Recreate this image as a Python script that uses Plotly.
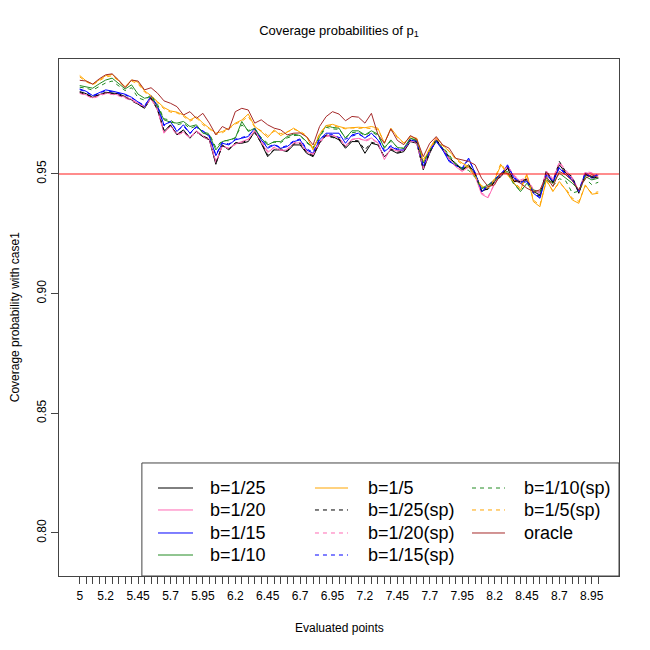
import plotly.graph_objects as go

# evaluated points 5, 5.05, ..., 9
eval_points = [round(5 + 0.05 * k, 2) for k in range(81)]
tick_labels = ["5", "5.2", "5.45", "5.7", "5.95", "6.2", "6.45", "6.7", "6.95",
               "7.2", "7.45", "7.7", "7.95", "8.2", "8.45", "8.7", "8.95"]

b25 = [0.9844, 0.9835, 0.9820, 0.9832, 0.9841, 0.9838, 0.9835, 0.9823, 0.9809, 0.9791,
       0.9774, 0.9819, 0.9767, 0.9677, 0.9705, 0.9663, 0.9684, 0.9649, 0.9677, 0.9655,
       0.9642, 0.9540, 0.9621, 0.9600, 0.9628, 0.9628, 0.9635, 0.9677, 0.9628, 0.9572,
       0.9600, 0.9600, 0.9593, 0.9621, 0.9621, 0.9586, 0.9572, 0.9628, 0.9663, 0.9656,
       0.9642, 0.9607, 0.9635, 0.9635, 0.9586, 0.9628, 0.9621, 0.9572, 0.9600, 0.9586,
       0.9593, 0.9635, 0.9628, 0.9517, 0.9586, 0.9642, 0.9600, 0.9565, 0.9545, 0.9517,
       0.9538, 0.9503, 0.9426, 0.9440, 0.9468, 0.9489, 0.9524, 0.9468, 0.9468, 0.9475,
       0.9426, 0.9412, 0.9510, 0.9461, 0.9538, 0.9503, 0.9482, 0.9419, 0.9496, 0.9489,
       0.9482]
b20 = [0.9838, 0.9830, 0.9818, 0.9830, 0.9838, 0.9835, 0.9830, 0.9820, 0.9812, 0.9795,
       0.9779, 0.9815, 0.9770, 0.9670, 0.9700, 0.9668, 0.9675, 0.9652, 0.9680, 0.9660,
       0.9645, 0.9548, 0.9618, 0.9605, 0.9625, 0.9635, 0.9645, 0.9682, 0.9632, 0.9590,
       0.9610, 0.9598, 0.9600, 0.9628, 0.9630, 0.9592, 0.9580, 0.9630, 0.9660, 0.9662,
       0.9650, 0.9615, 0.9645, 0.9648, 0.9640, 0.9650, 0.9630, 0.9560, 0.9605, 0.9595,
       0.9598, 0.9640, 0.9630, 0.9522, 0.9590, 0.9645, 0.9605, 0.9560, 0.9530, 0.9510,
       0.9530, 0.9490, 0.9415, 0.9400, 0.9460, 0.9495, 0.9530, 0.9490, 0.9470, 0.9480,
       0.9430, 0.9420, 0.9505, 0.9475, 0.9545, 0.9510, 0.9480, 0.9425, 0.9505, 0.9500,
       0.9490]
b15 = [0.9855, 0.9845, 0.9827, 0.9840, 0.9851, 0.9846, 0.9840, 0.9833, 0.9820, 0.9799,
       0.9781, 0.9827, 0.9781, 0.9705, 0.9718, 0.9677, 0.9705, 0.9670, 0.9698, 0.9677,
       0.9656, 0.9576, 0.9628, 0.9621, 0.9642, 0.9649, 0.9656, 0.9691, 0.9642, 0.9607,
       0.9621, 0.9607, 0.9614, 0.9635, 0.9642, 0.9600, 0.9586, 0.9642, 0.9670, 0.9670,
       0.9670, 0.9628, 0.9663, 0.9670, 0.9649, 0.9670, 0.9642, 0.9593, 0.9614, 0.9600,
       0.9600, 0.9642, 0.9635, 0.9530, 0.9593, 0.9635, 0.9600, 0.9551, 0.9538, 0.9524,
       0.9566, 0.9503, 0.9426, 0.9447, 0.9475, 0.9496, 0.9538, 0.9482, 0.9461, 0.9468,
       0.9419, 0.9398, 0.9496, 0.9468, 0.9524, 0.9496, 0.9475, 0.9426, 0.9503, 0.9482,
       0.9496]
b10 = [0.9869, 0.9864, 0.9858, 0.9876, 0.9892, 0.9900, 0.9876, 0.9855, 0.9872, 0.9833,
       0.9816, 0.9823, 0.9781, 0.9726, 0.9716, 0.9712, 0.9719, 0.9698, 0.9705, 0.9670,
       0.9663, 0.9600, 0.9635, 0.9642, 0.9649, 0.9719, 0.9677, 0.9691, 0.9649, 0.9621,
       0.9635, 0.9635, 0.9656, 0.9666, 0.9660, 0.9635, 0.9607, 0.9656, 0.9702, 0.9694,
       0.9691, 0.9649, 0.9680, 0.9680, 0.9663, 0.9680, 0.9666, 0.9607, 0.9642, 0.9610,
       0.9607, 0.9649, 0.9642, 0.9545, 0.9600, 0.9642, 0.9607, 0.9572, 0.9538, 0.9524,
       0.9530, 0.9496, 0.9440, 0.9454, 0.9475, 0.9503, 0.9510, 0.9461, 0.9426, 0.9461,
       0.9433, 0.9426, 0.9482, 0.9461, 0.9503, 0.9482, 0.9461, 0.9433, 0.9489, 0.9475,
       0.9482]
b5 = [0.9911, 0.9888, 0.9875, 0.9893, 0.9910, 0.9916, 0.9892, 0.9864, 0.9893, 0.9883,
      0.9847, 0.9827, 0.9802, 0.9777, 0.9763, 0.9758, 0.9746, 0.9725, 0.9739, 0.9712,
      0.9691, 0.9670, 0.9677, 0.9691, 0.9712, 0.9725, 0.9750, 0.9698, 0.9677, 0.9652,
      0.9684, 0.9660, 0.9674, 0.9691, 0.9674, 0.9656, 0.9600, 0.9666, 0.9702, 0.9707,
      0.9698, 0.9691, 0.9693, 0.9695, 0.9693, 0.9698, 0.9691, 0.9628, 0.9691, 0.9656,
      0.9628, 0.9656, 0.9649, 0.9550, 0.9607, 0.9652, 0.9621, 0.9593, 0.9566, 0.9545,
      0.9531, 0.9489, 0.9447, 0.9440, 0.9475, 0.9538, 0.9496, 0.9461, 0.9433, 0.9496,
      0.9384, 0.9363, 0.9475, 0.9426, 0.9468, 0.9433, 0.9391, 0.9377, 0.9454, 0.9415,
      0.9419]
b25_sp = [0.9840, 0.9832, 0.9822, 0.9830, 0.9838, 0.9836, 0.9830, 0.9820, 0.9806, 0.9790,
          0.9776, 0.9815, 0.9770, 0.9682, 0.9702, 0.9666, 0.9680, 0.9652, 0.9674, 0.9658,
          0.9646, 0.9545, 0.9618, 0.9604, 0.9630, 0.9632, 0.9640, 0.9672, 0.9630, 0.9578,
          0.9602, 0.9604, 0.9596, 0.9625, 0.9628, 0.9590, 0.9576, 0.9632, 0.9660, 0.9652,
          0.9646, 0.9612, 0.9640, 0.9638, 0.9600, 0.9632, 0.9625, 0.9568, 0.9604, 0.9590,
          0.9596, 0.9640, 0.9632, 0.9520, 0.9590, 0.9646, 0.9604, 0.9570, 0.9542, 0.9515,
          0.9535, 0.9500, 0.9430, 0.9436, 0.9465, 0.9492, 0.9528, 0.9472, 0.9470, 0.9478,
          0.9420, 0.9408, 0.9515, 0.9465, 0.9552, 0.9508, 0.9488, 0.9422, 0.9500, 0.9485,
          0.9478]
b20_sp = [0.9836, 0.9828, 0.9815, 0.9826, 0.9835, 0.9832, 0.9826, 0.9816, 0.9808, 0.9792,
          0.9782, 0.9812, 0.9768, 0.9672, 0.9698, 0.9662, 0.9672, 0.9650, 0.9676, 0.9655,
          0.9640, 0.9552, 0.9615, 0.9608, 0.9622, 0.9632, 0.9642, 0.9678, 0.9635, 0.9595,
          0.9612, 0.9600, 0.9604, 0.9630, 0.9634, 0.9596, 0.9584, 0.9636, 0.9656, 0.9660,
          0.9652, 0.9618, 0.9642, 0.9650, 0.9636, 0.9646, 0.9628, 0.9565, 0.9608, 0.9598,
          0.9600, 0.9636, 0.9626, 0.9526, 0.9594, 0.9648, 0.9608, 0.9565, 0.9535, 0.9512,
          0.9528, 0.9494, 0.9420, 0.9405, 0.9458, 0.9498, 0.9535, 0.9494, 0.9475, 0.9484,
          0.9435, 0.9425, 0.9512, 0.9480, 0.9550, 0.9515, 0.9485, 0.9430, 0.9510, 0.9505,
          0.9495]
b15_sp = [0.9852, 0.9842, 0.9825, 0.9838, 0.9848, 0.9843, 0.9836, 0.9830, 0.9818, 0.9802,
          0.9785, 0.9824, 0.9785, 0.9700, 0.9720, 0.9680, 0.9700, 0.9668, 0.9694, 0.9680,
          0.9660, 0.9580, 0.9632, 0.9625, 0.9645, 0.9652, 0.9660, 0.9688, 0.9646, 0.9612,
          0.9624, 0.9610, 0.9618, 0.9638, 0.9646, 0.9605, 0.9590, 0.9648, 0.9662, 0.9664,
          0.9652, 0.9645, 0.9658, 0.9666, 0.9652, 0.9666, 0.9646, 0.9598, 0.9618, 0.9604,
          0.9605, 0.9646, 0.9638, 0.9534, 0.9596, 0.9638, 0.9604, 0.9556, 0.9535, 0.9520,
          0.9560, 0.9506, 0.9430, 0.9450, 0.9478, 0.9500, 0.9534, 0.9486, 0.9465, 0.9472,
          0.9422, 0.9402, 0.9500, 0.9472, 0.9528, 0.9500, 0.9478, 0.9430, 0.9506, 0.9486,
          0.9500]
b10_sp = [0.9862, 0.9858, 0.9850, 0.9866, 0.9880, 0.9888, 0.9868, 0.9848, 0.9860, 0.9818,
          0.9808, 0.9830, 0.9790, 0.9730, 0.9725, 0.9705, 0.9712, 0.9690, 0.9700, 0.9675,
          0.9668, 0.9610, 0.9640, 0.9638, 0.9652, 0.9705, 0.9682, 0.9685, 0.9652, 0.9628,
          0.9632, 0.9630, 0.9650, 0.9660, 0.9662, 0.9630, 0.9610, 0.9650, 0.9695, 0.9688,
          0.9686, 0.9652, 0.9672, 0.9676, 0.9660, 0.9676, 0.9660, 0.9612, 0.9636, 0.9612,
          0.9606, 0.9646, 0.9640, 0.9548, 0.9598, 0.9636, 0.9612, 0.9580, 0.9540, 0.9520,
          0.9515, 0.9485, 0.9438, 0.9450, 0.9470, 0.9500, 0.9505, 0.9455, 0.9430, 0.9458,
          0.9428, 0.9420, 0.9478, 0.9450, 0.9480, 0.9470, 0.9420, 0.9428, 0.9480, 0.9455,
          0.9465]
b5_sp = [0.9905, 0.9885, 0.9872, 0.9888, 0.9905, 0.9910, 0.9888, 0.9860, 0.9888, 0.9876,
         0.9842, 0.9822, 0.9798, 0.9772, 0.9758, 0.9755, 0.9740, 0.9720, 0.9735, 0.9705,
         0.9688, 0.9665, 0.9672, 0.9688, 0.9708, 0.9720, 0.9740, 0.9695, 0.9680, 0.9660,
         0.9678, 0.9668, 0.9676, 0.9686, 0.9678, 0.9660, 0.9605, 0.9670, 0.9698, 0.9702,
         0.9694, 0.9688, 0.9692, 0.9690, 0.9692, 0.9690, 0.9686, 0.9630, 0.9684, 0.9652,
         0.9630, 0.9652, 0.9645, 0.9560, 0.9604, 0.9648, 0.9618, 0.9596, 0.9560, 0.9540,
         0.9525, 0.9485, 0.9450, 0.9445, 0.9480, 0.9545, 0.9500, 0.9465, 0.9440, 0.9500,
         0.9390, 0.9370, 0.9470, 0.9430, 0.9462, 0.9438, 0.9398, 0.9385, 0.9450, 0.9420,
         0.9425]
oracle = [0.9891, 0.9888, 0.9875, 0.9897, 0.9914, 0.9918, 0.9892, 0.9860, 0.9892, 0.9888,
          0.9851, 0.9860, 0.9837, 0.9805, 0.9795, 0.9781, 0.9746, 0.9760, 0.9732, 0.9753,
          0.9712, 0.9663, 0.9698, 0.9684, 0.9760, 0.9774, 0.9767, 0.9712, 0.9726, 0.9705,
          0.9691, 0.9684, 0.9663, 0.9670, 0.9671, 0.9655, 0.9621, 0.9698, 0.9739, 0.9760,
          0.9750, 0.9722, 0.9740, 0.9737, 0.9712, 0.9753, 0.9665, 0.9628, 0.9688, 0.9640,
          0.9622, 0.9660, 0.9645, 0.9572, 0.9628, 0.9656, 0.9621, 0.9607, 0.9565, 0.9559,
          0.9552, 0.9538, 0.9482, 0.9447, 0.9454, 0.9503, 0.9503, 0.9475, 0.9461, 0.9440,
          0.9426, 0.9433, 0.9489, 0.9447, 0.9510, 0.9496, 0.9471, 0.9433, 0.9482, 0.9496,
          0.9485]

series = [
    ("b=1/25", b25, "black", "solid"),
    ("b=1/20", b20, "hotpink", "solid"),
    ("b=1/15", b15, "blue", "solid"),
    ("b=1/10", b10, "forestgreen", "solid"),
    ("b=1/5", b5, "orange", "solid"),
    ("b=1/25(sp)", b25_sp, "black", "4px,4px"),
    ("b=1/20(sp)", b20_sp, "hotpink", "4px,4px"),
    ("b=1/15(sp)", b15_sp, "blue", "4px,4px"),
    ("b=1/10(sp)", b10_sp, "forestgreen", "4px,4px"),
    ("b=1/5(sp)", b5_sp, "orange", "4px,4px"),
    ("oracle", oracle, "brown", "solid"),
]

FONT = "Liberation Sans, Arial, sans-serif"

fig = go.Figure()
for name, vals, col, dash in series:
    fig.add_trace(go.Scatter(x=eval_points, y=vals, mode="lines", name=name,
                             line=dict(color=col, width=1, dash=dash)))

# reference line at nominal level
fig.add_shape(type="line", xref="paper", x0=0, x1=1, yref="y", y0=0.95, y1=0.95,
              line=dict(color="rgba(255,0,0,0.45)", width=2), layer="above")

# hand-made legend, 3 columns, bottom right
fig.add_shape(type="rect", xref="paper", yref="paper", x0=0.148, x1=1, y0=0, y1=0.2186,
              line=dict(color="#444", width=1), fillcolor="white", layer="above")
col_line = [(0.1768, 0.2393, 0.2661), (0.4571, 0.5161, 0.5482), (0.7375, 0.7964, 0.8268)]
row_y = [0.1702, 0.1277, 0.0832, 0.0406]
for k, (name, vals, col, dash) in enumerate(series):
    c, r = k // 4, k % 4
    x0, x1, xt = col_line[c]
    fig.add_shape(type="line", xref="paper", yref="paper", x0=x0, x1=x1,
                  y0=row_y[r], y1=row_y[r], line=dict(color=col, width=1, dash=dash),
                  layer="above")
    fig.add_annotation(xref="paper", yref="paper", x=xt, y=row_y[r], text=name,
                       showarrow=False, xanchor="left", yanchor="middle",
                       font=dict(size=18, color="black", family=FONT))

label_vals = [v for v in eval_points if f"{v:g}" in tick_labels]

fig.add_annotation(xref="paper", yref="paper", x=0.5, y=-0.1006, text="Evaluated points",
                   showarrow=False, yanchor="middle", font=dict(size=12, family=FONT))
fig.add_annotation(xref="paper", yref="paper", x=-0.079, y=0.5,
                   text="Coverage probability with case1", textangle=-90,
                   showarrow=False, xanchor="center", font=dict(size=12, family=FONT))

fig.update_layout(
    width=650, height=650,
    margin=dict(l=51, r=39, t=51, b=82),
    paper_bgcolor="white", plot_bgcolor="white",
    showlegend=False,
    font=dict(family=FONT, color="black", size=12),
    title=dict(text="Coverage probabilities of p<sub>1</sub>", x=0.5, xref="paper",
               y=1 - 22 / 650, yanchor="middle", font=dict(size=13)),
    xaxis=dict(range=[4.84, 9.16], tickvals=label_vals, ticktext=tick_labels,
               ticks="outside", ticklen=7, tickcolor="#444", showgrid=False,
               minor=dict(tickvals=eval_points, ticks="outside", ticklen=7,
                          tickcolor="#444", showgrid=False),
               zeroline=False, showline=True, mirror=True, linecolor="#444",
               tickfont=dict(size=12), ticklabelstandoff=2),
    yaxis=dict(range=[0.782, 0.998], tickvals=[0.80, 0.85, 0.90, 0.95],
               ticktext=["0.80", "0.85", "0.90", "0.95"], tickangle=-90,
               ticks="outside", ticklen=7, tickcolor="#444", showgrid=False,
               zeroline=False, showline=True, mirror=True, linecolor="#444",
               tickfont=dict(size=12)),
)

fig.write_html("out.html")
